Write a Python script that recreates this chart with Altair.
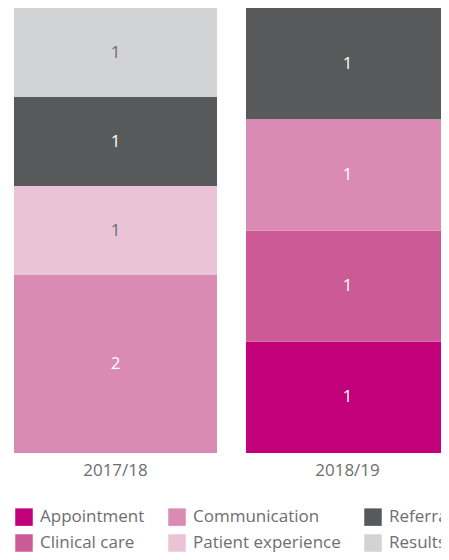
import altair as alt
import pandas as pd

years = ["2017/18", "2017/18", "2017/18", "2017/18",
         "2018/19", "2018/19", "2018/19", "2018/19"]
categories = ["Communication", "Patient experience", "Referral", "Results",
              "Appointment", "Clinical care", "Communication", "Referral"]
counts = [2, 1, 1, 1, 1, 1, 1, 1]

stack_order = ["Appointment", "Clinical care", "Communication",
               "Patient experience", "Referral", "Results"]
legend_order = ["Appointment", "Communication", "Referral",
                "Clinical care", "Patient experience", "Results"]
legend_colors = ["#C2007A", "#DA8BB3", "#58595B",
                 "#CC5A96", "#EBC3D7", "#D1D3D4"]
light = ["Patient experience", "Results"]

df = pd.DataFrame({"year": years, "category": categories, "count": counts})
df["rank"] = df["category"].map({c: i for i, c in enumerate(stack_order)})

base = alt.Chart(df).transform_stack(
    stack="count", groupby=["year"], sort=[alt.SortField("rank")],
    as_=["y0", "y1"], offset="normalize"
).transform_calculate(mid="(datum.y0 + datum.y1) / 2")

x_scale = alt.Scale(range=[0, 441], paddingInner=0.125, paddingOuter=0.0129, align=1)
x_axis = alt.Axis(ticks=False, domain=False, labelFontSize=17,
                  labelColor="#6D6E71", labelPadding=9,
                  labelFont="Open Sans", labelAngle=0)
y_scale = alt.Scale(domain=[0, 1])

bars = base.mark_bar(stroke=None).encode(
    x=alt.X("year:N", title=None, scale=x_scale, axis=x_axis),
    y=alt.Y("y0:Q", scale=y_scale, axis=None),
    y2="y1:Q",
    color=alt.Color("category:N",
                    scale=alt.Scale(domain=legend_order, range=legend_colors),
                    legend=alt.Legend(title=None, orient="none", legendX=7, legendY=500,
                                      columns=3, direction="horizontal",
                                      symbolType="square", symbolSize=306,
                                      symbolStrokeWidth=0, symbolOpacity=1,
                                      labelFontSize=17, labelFont="Open Sans",
                                      labelColor="#6D6E71", labelOffset=7,
                                      columnPadding=23, rowPadding=8, padding=0,
                                      labelLimit=300)),
)

labels = base.mark_text(fontSize=17, font="Open Sans").encode(
    x=alt.X("year:N", title=None, scale=x_scale, axis=x_axis),
    y=alt.Y("mid:Q", scale=y_scale, axis=None),
    text=alt.Text("count:Q"),
    color=alt.condition(alt.FieldOneOfPredicate(field="category", oneOf=light),
                        alt.value("#6D6E71"), alt.value("#FFFFFF")),
)

chart = alt.layer(bars, labels).properties(
    width=433, height=445,
    autosize=alt.AutoSizeParams(type="none"),
    padding={"left": 0, "top": 0, "right": 0, "bottom": 99},
).configure_view(stroke=None)

chart.save("out.html", embed_options={"renderer": "svg", "actions": False})
